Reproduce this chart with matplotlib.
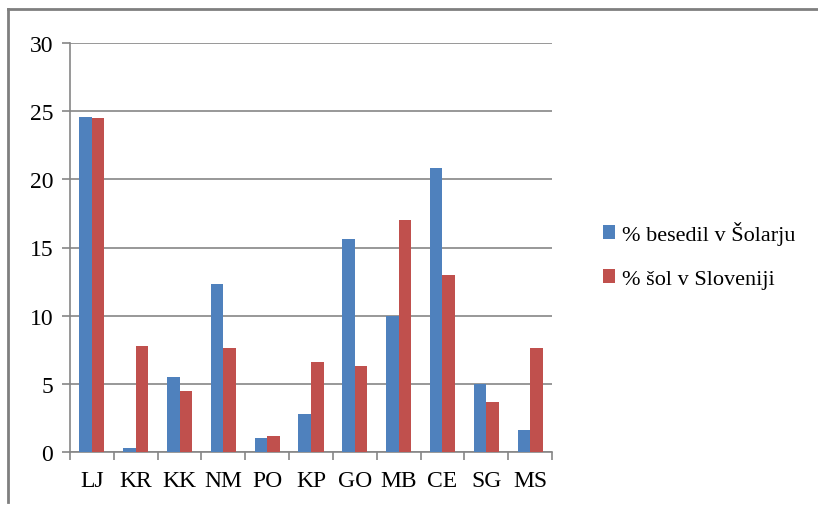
import numpy as np
import matplotlib.pyplot as plt
from matplotlib.lines import Line2D

plt.rcParams['font.family'] = ['Liberation Serif', 'DejaVu Serif']

regije = ['LJ', 'KR', 'KK', 'NM', 'PO', 'KP', 'GO', 'MB', 'CE', 'SG', 'MS']
besedila = [24.6, 0.3, 5.5, 12.3, 1.0, 2.8, 15.6, 10.0, 20.8, 5.0, 1.6]
sole = [24.5, 7.8, 4.5, 7.6, 1.2, 6.6, 6.3, 17.0, 13.0, 3.7, 7.6]
yticks = [0, 5, 10, 15, 20, 25, 30]

modra = '#4f81bd'
rdeca = '#c0504d'
siva = '#868686'

fig = plt.figure(figsize=(8.18, 5.06), dpi=100)
ax = fig.add_axes([70 / 818, 1 - 453 / 506, 482 / 818, 409 / 506])

x = np.arange(len(regije))
w = 1 / 3.5
ax.bar(x - w / 2, besedila, w, color=modra, label='% besedil v Šolarju', zorder=3)
ax.bar(x + w / 2, sole, w, color=rdeca, label='% šol v Sloveniji', zorder=3)

ax.set_xlim(-0.5, len(regije) - 0.5)
ax.set_ylim(0, 30)
ax.set_yticks(yticks)
ax.set_yticklabels([str(v) for v in yticks])
ax.yaxis.grid(True, color=siva, linewidth=1.2, zorder=0)

# category labels between boundary ticks
ax.set_xticks(np.arange(len(regije) + 1) - 0.5)
ax.set_xticklabels([])
ax.set_xticks(x, minor=True)
ax.set_xticklabels(regije, minor=True)
ax.tick_params(axis='x', which='minor', length=0, pad=13, labelsize=17)
ax.tick_params(axis='x', which='major', length=6, width=1.2, color=siva)
ax.tick_params(axis='y', length=6, width=1.2, color=siva, pad=6, labelsize=17)

for s in ['top', 'right']:
    ax.spines[s].set_visible(False)
for s in ['left', 'bottom']:
    ax.spines[s].set_color(siva)
    ax.spines[s].set_linewidth(1.2)

ax.legend(loc='center left', bbox_to_anchor=(603 / 818, 1 - 256 / 506),
          bbox_transform=fig.transFigure, frameon=False, fontsize=16,
          handlelength=0.55, handleheight=0.55, handletextpad=0.3,
          labelspacing=1.1, borderaxespad=0, borderpad=0)

# outer frame of the chart area
fig.add_artist(Line2D([7.5 / 818, 7.5 / 818], [1 - 10 / 506, 1 - 503 / 506],
                      transform=fig.transFigure, color='#7f7f7f', linewidth=2))
fig.add_artist(Line2D([7.5 / 818, 1.0], [1 - 10 / 506, 1 - 10 / 506],
                      transform=fig.transFigure, color='#7f7f7f', linewidth=2))

fig.savefig('out.png', dpi=100)
